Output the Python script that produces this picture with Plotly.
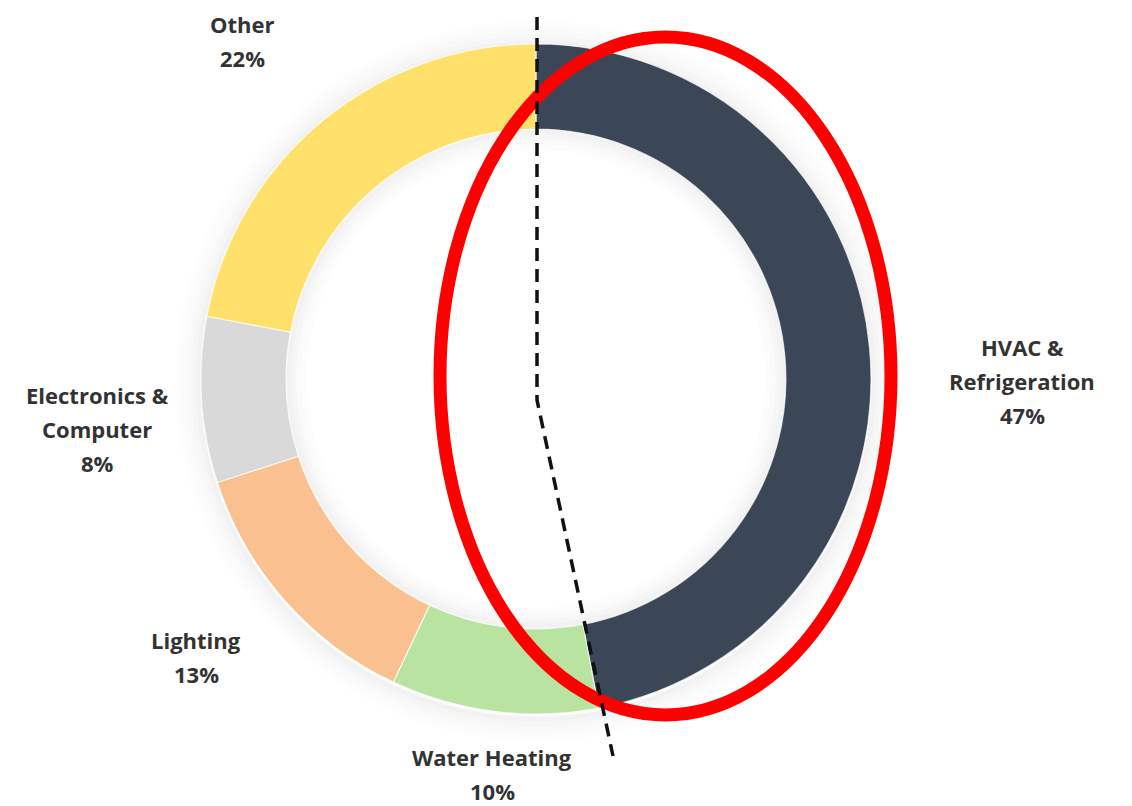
import plotly.graph_objects as go

# ---- data ----
categories = ["HVAC & Refrigeration", "Water Heating", "Lighting", "Electronics & Computer", "Other"]
values = [47, 10, 13, 8, 22]
colors = ["#3B4657", "#B9E3A0", "#FAC08F", "#D9D9D9", "#FEE06B"]
label_lines = [
    ["HVAC &", "Refrigeration", "47%"],
    ["Water Heating", "10%"],
    ["Lighting", "13%"],
    ["Electronics &", "Computer", "8%"],
    ["Other", "22%"],
]

# ---- layout geometry (screen pixels) ----
W, H = 1132, 806
OFF = 8  # page body margin
CX, CY, R = 536, 379, 335
HOLE = 0.746
label_pos = [(1022, 347), (492, 757), (196, 640), (97, 395), (242, 24)]
LINE_GAP = 34
FW, FH = W - OFF, H - OFF

fig = go.Figure()

fig.add_trace(go.Pie(
    labels=categories, values=values, sort=False, direction="clockwise", rotation=0,
    hole=HOLE, marker=dict(colors=colors, line=dict(color="rgba(255,255,255,0.7)", width=1.2)),
    textinfo="none", hoverinfo="label+percent", showlegend=False,
    domain=dict(x=[(CX - R - OFF) / FW, (CX + R - OFF) / FW],
                y=[1 - (CY + R - OFF) / FH, 1 - (CY - R - OFF) / FH]),
))

# hidden pixel axes for overlays
fig.add_trace(go.Scatter(x=[OFF, W], y=[OFF, H], mode="markers", marker=dict(opacity=0),
                         showlegend=False, hoverinfo="skip"))

shapes = []
# soft outer shadow (rings)
for i, a in enumerate([0.05, 0.035, 0.025, 0.015, 0.008]):
    rr = R + 3 + i * 5
    shapes.append(dict(type="circle", xref="x", yref="y", layer="below",
                       x0=CX - rr, x1=CX + rr, y0=CY - rr + 2, y1=CY + rr + 2,
                       line=dict(color=f"rgba(0,0,0,{a})", width=5), fillcolor="rgba(0,0,0,0)"))
# inner shadow in the hole (rings)
RI = R * HOLE
for i, a in enumerate([0.05, 0.035, 0.02, 0.01]):
    rr = RI - 3 - i * 5
    shapes.append(dict(type="circle", xref="x", yref="y", layer="above",
                       x0=CX - rr, x1=CX + rr, y0=CY - rr, y1=CY + rr,
                       line=dict(color=f"rgba(0,0,0,{a})", width=5), fillcolor="rgba(0,0,0,0)"))
# red ellipse
shapes.append(dict(type="circle", xref="x", yref="y", layer="above",
                   x0=440, x1=891, y0=37, y1=715,
                   line=dict(color="#FF0000", width=13), fillcolor="rgba(0,0,0,0)"))
# dashed line
shapes.append(dict(type="path", xref="x", yref="y", layer="above",
                   path="M 537 17 L 537 400 L 613 756",
                   line=dict(color="#111111", width=3.5, dash="13px,8px")))

annotations = []
for lines, (x, y) in zip(label_lines, label_pos):
    for j, t in enumerate(lines):
        annotations.append(dict(x=x, y=y + j * LINE_GAP, xref="x", yref="y", text=t,
                                showarrow=False, xanchor="center", yanchor="middle",
                                font=dict(family="Open Sans", size=22, color="#333333", weight="bold")))

fig.update_layout(
    width=FW, height=FH, margin=dict(l=0, r=0, t=0, b=0),
    paper_bgcolor="white", plot_bgcolor="rgba(0,0,0,0)",
    xaxis=dict(range=[OFF, W], visible=False, fixedrange=True, domain=[0, 1]),
    yaxis=dict(range=[H, OFF], visible=False, fixedrange=True, domain=[0, 1]),
    shapes=shapes, annotations=annotations,
)

fig.write_html("out.html")
